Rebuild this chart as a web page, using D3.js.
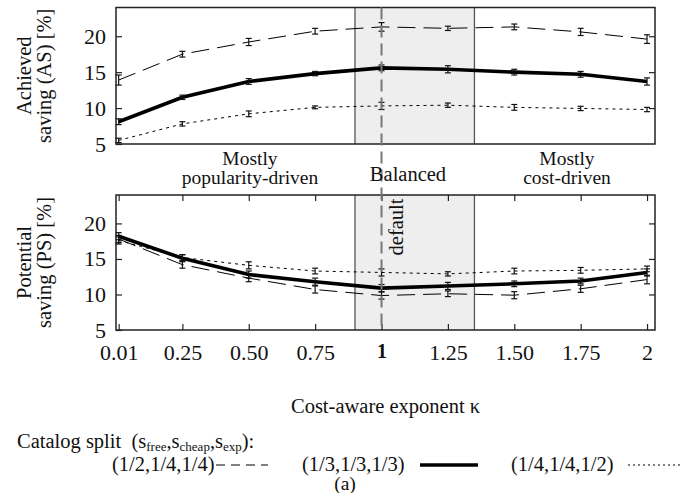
<!DOCTYPE html>
<html><head><meta charset="utf-8">
<script src="https://cdn.jsdelivr.net/npm/d3@7"></script>
<style>body{margin:0;background:#fff}svg{display:block}text{font-family:"Liberation Serif","Times New Roman",serif;fill:#111}</style>
</head><body><svg id="c" width="680" height="493"></svg>
<script>
// ---- data ----
const kappa = [0.01, 0.25, 0.5, 0.75, 1, 1.25, 1.5, 1.75, 2];
const tickLabels = ["0.01","0.25","0.50","0.75","1","1.25","1.50","1.75","2"];
const seriesNames = ["(1/2,1/4,1/4)", "(1/3,1/3,1/3)", "(1/4,1/4,1/2)"];
// Achieved saving (AS)
const asHalf   = [13.9, 17.5, 19.2, 20.7, 21.3, 21.1, 21.3, 20.6, 19.6];
const asThird  = [8.1, 11.5, 13.7, 14.8, 15.6, 15.4, 15.0, 14.7, 13.7];
const asQuart  = [5.5, 7.8, 9.2, 10.1, 10.3, 10.4, 10.1, 9.95, 9.8];
const asHalfErr  = [0.7, 0.4, 0.5, 0.4, 0.6, 0.3, 0.4, 0.5, 0.6];
const asThirdErr = [0.4, 0.3, 0.4, 0.3, 0.4, 0.5, 0.4, 0.4, 0.5];
const asQuartErr = [0.3, 0.3, 0.4, 0.2, 0.5, 0.3, 0.4, 0.3, 0.3];
// Potential saving (PS)
const psHalf   = [17.8, 14.2, 12.3, 10.7, 9.85, 10.1, 9.9, 10.8, 12.1];
const psThird  = [18.2, 15.1, 12.8, 11.8, 10.9, 11.2, 11.5, 11.9, 13.1];
const psQuart  = [17.6, 15.2, 14.1, 13.3, 13.1, 12.9, 13.3, 13.4, 13.6];
const psHalfErr  = [0.5, 0.5, 0.5, 0.5, 0.5, 0.4, 0.5, 0.5, 0.6];
const psThirdErr = [0.5, 0.5, 0.5, 0.5, 0.5, 0.5, 0.4, 0.4, 0.5];
const psQuartErr = [0.5, 0.4, 0.5, 0.4, 0.5, 0.3, 0.4, 0.4, 0.4];
const regions = [[0.9, 1.35]];
const defaultKappa = 1;

// ---- layout ----
const svg = d3.select("#c");
const L = 116, R = 655;
const x = d3.scaleLinear().domain([0, 2.03]).range([L, R]);
const panels = [
  {top: 7.5, bot: 144, vals: [asHalf, asThird, asQuart], errs: [asHalfErr, asThirdErr, asQuartErr], lab: ["Achieved", "saving (AS) [%]"], xt: false},
  {top: 195, bot: 330, vals: [psHalf, psThird, psQuart], errs: [psHalfErr, psThirdErr, psQuartErr], lab: ["Potential", "saving (PS) [%]"], xt: true}
];
const styles = [
  {w: 1, dash: "18,8", leg: "9,6"},
  {w: 3.6, dash: null, leg: null},
  {w: 1, dash: "3,4", leg: "2,3"}
];
const FS = 20.5, TFS = 22;

panels.forEach(p => {
  const y = d3.scaleLinear().domain([5, 24]).range([p.bot, p.top]);
  const g = svg.append("g");
  // shaded region
  regions.forEach(r => {
    g.append("rect").attr("x", x(r[0])).attr("y", p.top).attr("width", x(r[1]) - x(r[0])).attr("height", p.bot - p.top)
      .attr("fill", "#eeeeee");
    [r[0], r[1]].forEach(v => g.append("line").attr("x1", x(v)).attr("x2", x(v)).attr("y1", p.top).attr("y2", p.bot)
      .attr("stroke", "#555").attr("stroke-width", 1.3));
  });
  // y ticks: left and right inward
  const yt = [5, 10, 15, 20];
  g.append("g").attr("transform", `translate(${L},0)`)
    .call(d3.axisLeft(y).tickValues(yt).tickSize(-6).tickPadding(10).tickFormat(d3.format("d")))
    .call(a => { a.select(".domain").remove(); a.selectAll("line").attr("stroke", "#222").attr("stroke-width", 1.2);
      a.selectAll("text").attr("font-size", TFS).attr("font-family", "Liberation Serif").attr("fill", "#111"); });
  g.append("g").attr("transform", `translate(${R},0)`)
    .call(d3.axisRight(y).tickValues(yt.filter(v => v > 5)).tickSize(-6).tickFormat(""))
    .call(a => { a.select(".domain").remove(); a.selectAll("line").attr("stroke", "#222").attr("stroke-width", 1.2); });
  if (p.xt) {
    g.append("g").attr("transform", `translate(0,${p.bot})`)
      .call(d3.axisBottom(x).tickValues(kappa).tickSize(-6).tickPadding(14).tickFormat((d, i) => tickLabels[i]))
      .call(a => { a.select(".domain").remove(); a.selectAll("line").attr("stroke", "#222").attr("stroke-width", 1.2);
        a.selectAll("text").attr("font-size", TFS).attr("font-family", "Liberation Serif").attr("fill", "#111")
          .filter((d, i) => i === 4).attr("font-family", "Liberation Sans").attr("font-weight", "bold").attr("font-size", 20); });
    g.append("g").attr("transform", `translate(0,${p.top})`)
      .call(d3.axisTop(x).tickValues(kappa).tickSize(-6).tickFormat(""))
      .call(a => { a.select(".domain").remove(); a.selectAll("line").attr("stroke", "#222").attr("stroke-width", 1.2); });
  }
  // frame
  g.append("rect").attr("x", L).attr("y", p.top).attr("width", R - L).attr("height", p.bot - p.top)
    .attr("fill", "none").attr("stroke", "#222").attr("stroke-width", 1.5);
  // series
  p.vals.forEach((vals, si) => {
    const st = styles[si];
    const line = d3.line().x((d, i) => x(kappa[i])).y(d => y(d));
    g.append("path").datum(vals).attr("d", line).attr("fill", "none").attr("stroke", "#000")
      .attr("stroke-width", st.w).attr("stroke-dasharray", st.dash);
    const eg = g.append("g").attr("stroke", "#111").attr("stroke-width", 1.2);
    vals.forEach((v, i) => {
      const e = p.errs[si][i], cx = x(kappa[i]);
      eg.append("line").attr("x1", cx).attr("x2", cx).attr("y1", y(v - e)).attr("y2", y(v + e));
      [v - e, v + e].forEach(w => eg.append("line").attr("x1", cx - 3).attr("x2", cx + 3).attr("y1", y(w)).attr("y2", y(w)));
    });
  });
  // y label
  const cy = (p.top + p.bot) / 2;
  p.lab.forEach((t, i) => svg.append("text").attr("transform", `translate(${31 + i * 20},${cy}) rotate(-90)`)
    .attr("text-anchor", "middle").attr("font-size", FS).text(t));
});

// default line
svg.append("line").attr("x1", x(defaultKappa)).attr("x2", x(defaultKappa)).attr("y1", 7.5).attr("y2", 330)
  .attr("stroke", "#777").attr("stroke-width", 2).attr("stroke-dasharray", "12,6");
svg.append("text").attr("transform", `translate(${x(defaultKappa) + 21},227) rotate(-90)`)
  .attr("text-anchor", "middle").attr("font-size", FS).text("default");

// region labels
const regionLabels = [
  {x: 250, lines: ["Mostly", "popularity-driven"], y0: 165},
  {x: 408, lines: ["Balanced"], y0: 181},
  {x: 567, lines: ["Mostly", "cost-driven"], y0: 165}
];
regionLabels.forEach(r => r.lines.forEach((t, i) => svg.append("text").attr("x", r.x).attr("y", r.y0 + i * 19)
  .attr("text-anchor", "middle").attr("font-size", r.lines.length > 1 ? 19.5 : FS).text(t)));

// x axis title
svg.append("text").attr("x", (L + R) / 2).attr("y", 413).attr("text-anchor", "middle").attr("font-size", FS)
  .text("Cost-aware exponent κ");

// legend
const lt = svg.append("text").attr("x", 17).attr("y", 448).attr("font-size", FS);
lt.append("tspan").text("Catalog split\u00a0\u00a0(s");
lt.append("tspan").attr("font-size", 13).attr("dy", 3).text("free");
lt.append("tspan").attr("dy", -3).text(",s");
lt.append("tspan").attr("font-size", 13).attr("dy", 3).text("cheap");
lt.append("tspan").attr("dy", -3).text(",s");
lt.append("tspan").attr("font-size", 13).attr("dy", 3).text("exp");
lt.append("tspan").attr("dy", -3).text("):");
const legX = [{tx: 112, l1: 216, l2: 268}, {tx: 302, l1: 420, l2: 478}, {tx: 511, l1: 628, l2: 680}];
seriesNames.forEach((n, i) => {
  svg.append("text").attr("x", legX[i].tx).attr("y", 471).attr("font-size", FS).text(n);
  svg.append("line").attr("x1", legX[i].l1).attr("x2", legX[i].l2).attr("y1", 465).attr("y2", 465)
    .attr("stroke", "#000").attr("stroke-width", styles[i].w).attr("stroke-dasharray", styles[i].leg);
});
svg.append("text").attr("x", 345).attr("y", 490).attr("font-size", 19.5).attr("text-anchor", "middle").text("(a)");
</script></body></html>
